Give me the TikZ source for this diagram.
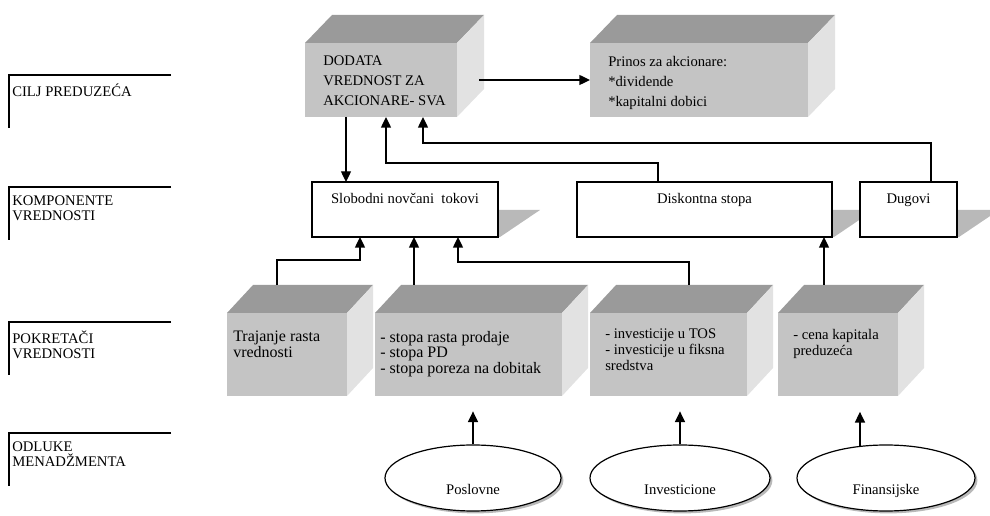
\documentclass[tikz,border=0pt]{standalone}
\usepackage{fontspec}
\setmainfont{Liberation Serif}
\usetikzlibrary{positioning,arrows.meta,calc,shapes.geometric,shadows}
\definecolor{frontgray}{HTML}{C4C4C4}
\definecolor{topgray}{HTML}{9A9A9A}
\definecolor{sidegray}{HTML}{E2E2E2}
\definecolor{shadowgray}{HTML}{B9B9B9}

\begin{document}
\begin{tikzpicture}[x=0.75pt, y=-0.75pt, >={Triangle[length=8pt,width=7.5pt]},
	lice/.style={fill=frontgray, anchor=north west, inner sep=0pt, outer sep=0pt},
	okvir/.style={draw=black, line width=1pt, fill=white, anchor=north west, inner sep=0pt, outer sep=0pt},
	tekst/.style={anchor=north west, align=left, inner sep=0pt, font=\fontsize{11}{15}\selectfont},
	tekstm/.style={tekst, font=\fontsize{11}{12}\selectfont},
	tekstv/.style={tekst, font=\fontsize{12}{11.7}\selectfont},
	oznaka/.style={anchor=north west, align=left, inner sep=0pt, font=\fontsize{11}{11.25}\selectfont},
	odluka/.style={ellipse, draw, line width=0.9pt, fill=white, minimum height=66*0.75pt, inner sep=0pt,
		drop shadow={shadow xshift=1.8pt, shadow yshift=-1.8pt, fill=black!55}},
	veza/.style={line width=1pt, ->}]
	\useasboundingbox (0,0) rectangle (990,516);
	% levels on the left
	\foreach \y/\ime/\txt in {75/cilj/{CILJ PREDUZEĆA}, 187/komp/{KOMPONENTE\\VREDNOSTI},
		322/pokr/{POKRETAČI\\VREDNOSTI}, 433/odl/{ODLUKE\\MENADŽMENTA}}{
		\draw[line width=0.8pt] (171,\y) -- (9,\y) -- (9,\y+53);
		\node[oznaka] (\ime) at (12,\y+9) {\txt};
	}
	% 3d boxes, front faces
	\node[lice, minimum width=152*0.75pt, minimum height=74*0.75pt] (sva) at (305,43) {};
	\node[lice, minimum width=218*0.75pt, minimum height=74*0.75pt] (prinos) at (590,43) {};
	\node[lice, minimum width=120*0.75pt, minimum height=83*0.75pt] (trajanje) at (227,313) {};
	\node[lice, minimum width=187*0.75pt, minimum height=83*0.75pt] (stopa) at (375,313) {};
	\node[lice, minimum width=157*0.75pt, minimum height=83*0.75pt] (invest) at (590,313) {};
	\node[lice, minimum width=120*0.75pt, minimum height=83*0.75pt] (cena) at (778,313) {};
	\foreach \n/\dx in {sva/27, prinos/27, trajanje/26, stopa/26, invest/26, cena/26}{
		\fill[topgray] (\n.north west) -- ++(\dx,-28) -- ($(\n.north east)+(\dx,-28)$) -- (\n.north east) -- cycle;
		\fill[sidegray] (\n.north east) -- ++(\dx,-28) -- ($(\n.south east)+(\dx,-28)$) -- (\n.south east) -- cycle;
	}
	\node[tekst] (svaT) at ($(sva.north west)+(18,13)$) {DODATA\\VREDNOST ZA\\AKCIONARE- SVA};
	\node[tekst] (prinosT) at ($(prinos.north west)+(18,13)$) {Prinos za akcionare:\\*dividende\\*kapitalni dobici};
	\node[tekstv] (trajanjeT) at ($(trajanje.north west)+(6,18)$) {Trajanje rasta\\vrednosti};
	\node[tekstv] (stopaT) at ($(stopa.north west)+(5,18)$) {- stopa rasta prodaje\\- stopa PD\\- stopa poreza na dobitak};
	\node[tekstm] (investT) at ($(invest.north west)+(15,16)$) {- investicije u TOS\\- investicije u fiksna\\sredstva};
	\node[tekstm] (cenaT) at ($(cena.north west)+(15,16)$) {- cena kapitala\\preduzeća};
	% value components with shadows
	\foreach \r in {498,832,957}
		\fill[shadowgray] (\r,210) -- ++(42,0) -- (\r+2,237) -- (\r,237) -- cycle;
	\node[okvir, minimum width=186*0.75pt, minimum height=55*0.75pt] (slobodni) at (312,182) {};
	\node[okvir, minimum width=255*0.75pt, minimum height=55*0.75pt] (diskontna) at (577,182) {};
	\node[okvir, minimum width=97*0.75pt, minimum height=55*0.75pt] (dugovi) at (860,182) {};
	\node[anchor=base, font=\fontsize{11}{12}\selectfont] (slobodniT) at ($(slobodni.north)+(0,22)$) {Slobodni novčani\ \ tokovi};
	\node[anchor=base, font=\fontsize{11}{12}\selectfont] (diskontnaT) at ($(diskontna.north)+(0,22)$) {Diskontna stopa};
	\node[anchor=base, font=\fontsize{11}{12}\selectfont] (dugoviT) at ($(dugovi.north)+(0,22)$) {Dugovi};
	% management decisions
	\node[odluka, minimum width=176*0.75pt] (posl) at (473,478) {};
	\node[odluka, minimum width=180*0.75pt] (inv) at (680,478) {};
	\node[odluka, minimum width=178*0.75pt] (fin) at (886,478) {};
	\foreach \n/\t in {posl/Poslovne, inv/Investicione, fin/Finansijske}
		\node[anchor=base, font=\fontsize{11}{12}\selectfont] (\n T) at ($(\n.center)+(0,17)$) {\t};
	% connectors
	\draw[veza] ($(sva.south west)+(41,0)$) coordinate (p1) -- (p1 |- slobodni.north);
	\draw[veza] ($(sva.east)+(22,0)$) -- (prinos.west);
	\draw[veza] ($(diskontna.north west)+(81,0)$) -- ++(0,-19) -| ($(sva.south west)+(81,0)$);
	\draw[veza] ($(dugovi.north west)+(71,0)$) -- ++(0,-39) -| ($(sva.south west)+(118,0)$);
	\draw[veza] ($(trajanje.north west)+(50,-28)$) -- ++(0,-25) -| ($(slobodni.south west)+(48,0)$);
	\draw[veza] ($(stopa.north west)+(39,-28)$) coordinate (p2) -- (p2 |- slobodni.south);
	\draw[veza] ($(invest.north west)+(99,-28)$) -- ++(0,-23) -| ($(slobodni.south west)+(146,0)$);
	\draw[veza] ($(cena.north west)+(46,-28)$) coordinate (p3) -- (p3 |- diskontna.south);
	\draw[veza] (posl.north) -- ++(0,-33);
	\draw[veza] (inv.north) -- ++(0,-33);
	\draw[veza] (fin.129) -- ++(0,-34);
\end{tikzpicture}
\end{document}
